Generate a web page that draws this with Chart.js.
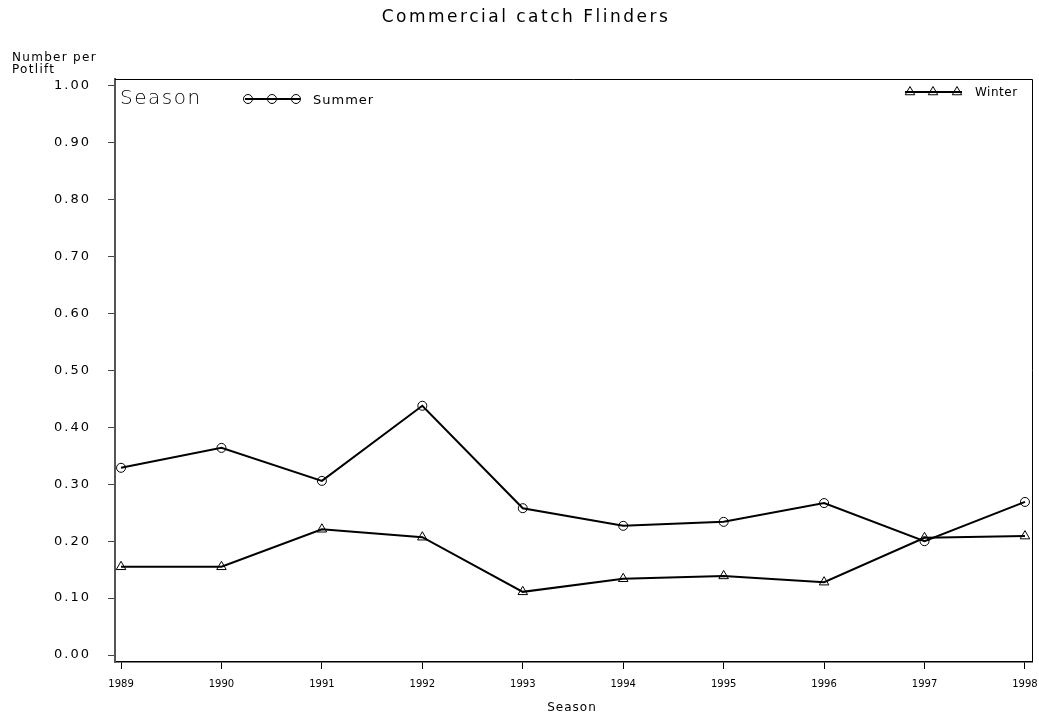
<!DOCTYPE html>
<html>
<head>
<meta charset="utf-8">
<script src="https://cdn.jsdelivr.net/npm/chart.js@4.4.1/dist/chart.umd.min.js"></script>
<style>
  html, body { margin: 0; padding: 0; background: #fff; }
  #wrap { width: 1039px; height: 717px; position: relative; }
</style>
</head>
<body>
<div id="wrap"><canvas id="myChart" width="1039" height="717"></canvas></div>
<script>
var seasons = [1989, 1990, 1991, 1992, 1993, 1994, 1995, 1996, 1997, 1998];
var summer = [0.329, 0.364, 0.306, 0.438, 0.258, 0.227, 0.234, 0.267, 0.200, 0.269];
var winter = [0.155, 0.155, 0.221, 0.207, 0.111, 0.134, 0.139, 0.128, 0.206, 0.209];
var yTicks = [0, 0.1, 0.2, 0.3, 0.4, 0.5, 0.6, 0.7, 0.8, 0.9, 1.0];

function pts(vals) {
	return seasons.map(function (s, i) { return { x: s, y: vals[i] }; });
}

var FONT = "'DejaVu Sans', sans-serif";

// titles, frame and the in-plot legend
var decor = {
	id: 'decor',
	afterLayout: function (chart) {
		var ys = chart.scales.y;
		if (!ys._wide) {
			var orig = ys.drawLabels;
			ys.drawLabels = function (area) {
				var c = this.ctx;
				c.save();
				c.letterSpacing = '2px';
				orig.call(this, area);
				c.restore();
			};
			ys._wide = true;
		}
	},
	afterDraw: function (chart) {
		var c = chart.ctx, a = chart.chartArea;
		c.save();
		c.strokeStyle = '#000';
		c.lineWidth = 1;
		c.beginPath();
		c.moveTo(a.left, a.top + 0.5);
		c.lineTo(a.right + 0.5, a.top + 0.5);
		c.lineTo(a.right + 0.5, a.bottom);
		c.stroke();

		c.fillStyle = '#000';
		c.textBaseline = 'middle';
		c.textAlign = 'center';
		c.letterSpacing = '2.5px';
		c.font = '17px ' + FONT;
		c.fillText('Commercial catch Flinders', 526, 18);

		c.textAlign = 'left';
		c.letterSpacing = '1.3px';
		c.font = '12px ' + FONT;
		c.fillText('Number per', 12, 58);
		c.fillText('Potlift', 12, 70);

		c.textAlign = 'center';
		c.letterSpacing = '1px';
		c.font = '12px ' + FONT;
		c.fillText('Season', 572, 708);

		c.textAlign = 'left';
		c.letterSpacing = '1.5px';
		c.font = '200 20px ' + FONT;
		c.fillText('Season', 120, 99);

		c.letterSpacing = '1px';
		c.font = '13px ' + FONT;
		c.fillText('Summer', 313, 101);
		c.letterSpacing = '0.5px';
		c.font = '12px ' + FONT;
		c.fillText('Winter', 975, 93);

		// legend keys
		c.lineWidth = 2;
		c.beginPath(); c.moveTo(245, 99); c.lineTo(300, 99); c.stroke();
		c.beginPath(); c.moveTo(905, 92); c.lineTo(962, 92); c.stroke();
		c.fillStyle = 'rgba(0,0,0,0)';
		c.lineWidth = 1;
		var sm = chart.data.datasets[0], wn = chart.data.datasets[1];
		[248, 272, 296].forEach(function (x) {
			Chart.helpers.drawPoint(c, { pointStyle: sm.pointStyle, radius: sm.pointRadius, borderWidth: 1 }, x, 99);
		});
		[910, 933, 957].forEach(function (x) {
			Chart.helpers.drawPoint(c, { pointStyle: wn.pointStyle, radius: wn.pointRadius, borderWidth: 1 }, x, 92);
		});
		c.restore();
	}
};

var ctx = document.getElementById('myChart');
var myChart = new Chart(ctx, {
	type: 'line',
	data: {
		datasets: [{
			label: 'Summer',
			data: pts(summer),
			borderColor: '#000',
			backgroundColor: 'rgba(0,0,0,0)',
			borderWidth: 2,
			pointStyle: 'circle',
			pointRadius: 4.5,
			pointBorderWidth: 1,
			pointBorderColor: '#000',
			pointBackgroundColor: 'rgba(255,255,255,0)'
		}, {
			label: 'Winter',
			data: pts(winter),
			borderColor: '#000',
			backgroundColor: 'rgba(0,0,0,0)',
			borderWidth: 2,
			pointStyle: 'triangle',
			pointRadius: 5.5,
			pointBorderWidth: 1,
			pointBorderColor: '#000',
			pointBackgroundColor: 'rgba(255,255,255,0)'
		}]
	},
	options: {
		responsive: false,
		animation: false,
		devicePixelRatio: 1,
		layout: { padding: { top: 79, right: 7, left: 0, bottom: 0 } },
		plugins: {
			legend: { display: false },
			tooltip: { enabled: false }
		},
		scales: {
			x: {
				type: 'linear',
				min: 1988.94,
				max: 1998.07,
				afterBuildTicks: function (s) {
					s.ticks = seasons.map(function (v) { return { value: v }; });
				},
				afterFit: function (s) {
					s.height = 55;
					s.paddingLeft = 0;
					s.paddingRight = 0;
				},
				grid: { drawOnChartArea: false, drawTicks: true, tickLength: 7, color: '#000', lineWidth: 1 },
				border: { display: true, color: '#000', width: 1.5 },
				ticks: {
					color: '#000',
					font: { family: FONT, size: 10 },
					padding: 9,
					maxRotation: 0,
					autoSkip: false,
					callback: function (v) { return String(v); }
				}
			},
			y: {
				min: -0.0123,
				max: 1.0123,
				afterBuildTicks: function (s) {
					s.ticks = yTicks.map(function (v) { return { value: v }; });
				},
				afterFit: function (s) { s.width = 115; },
				grid: { drawOnChartArea: false, drawTicks: true, tickLength: 7, color: '#444', lineWidth: 1 },
				border: { display: true, color: '#555', width: 2 },
				ticks: {
					color: '#000',
					font: { family: FONT, size: 13 },
					padding: 17,
					autoSkip: false,
					callback: function (v) { return v.toFixed(2); }
				}
			}
		}
	},
	plugins: [decor]
});
</script>
</body>
</html>
